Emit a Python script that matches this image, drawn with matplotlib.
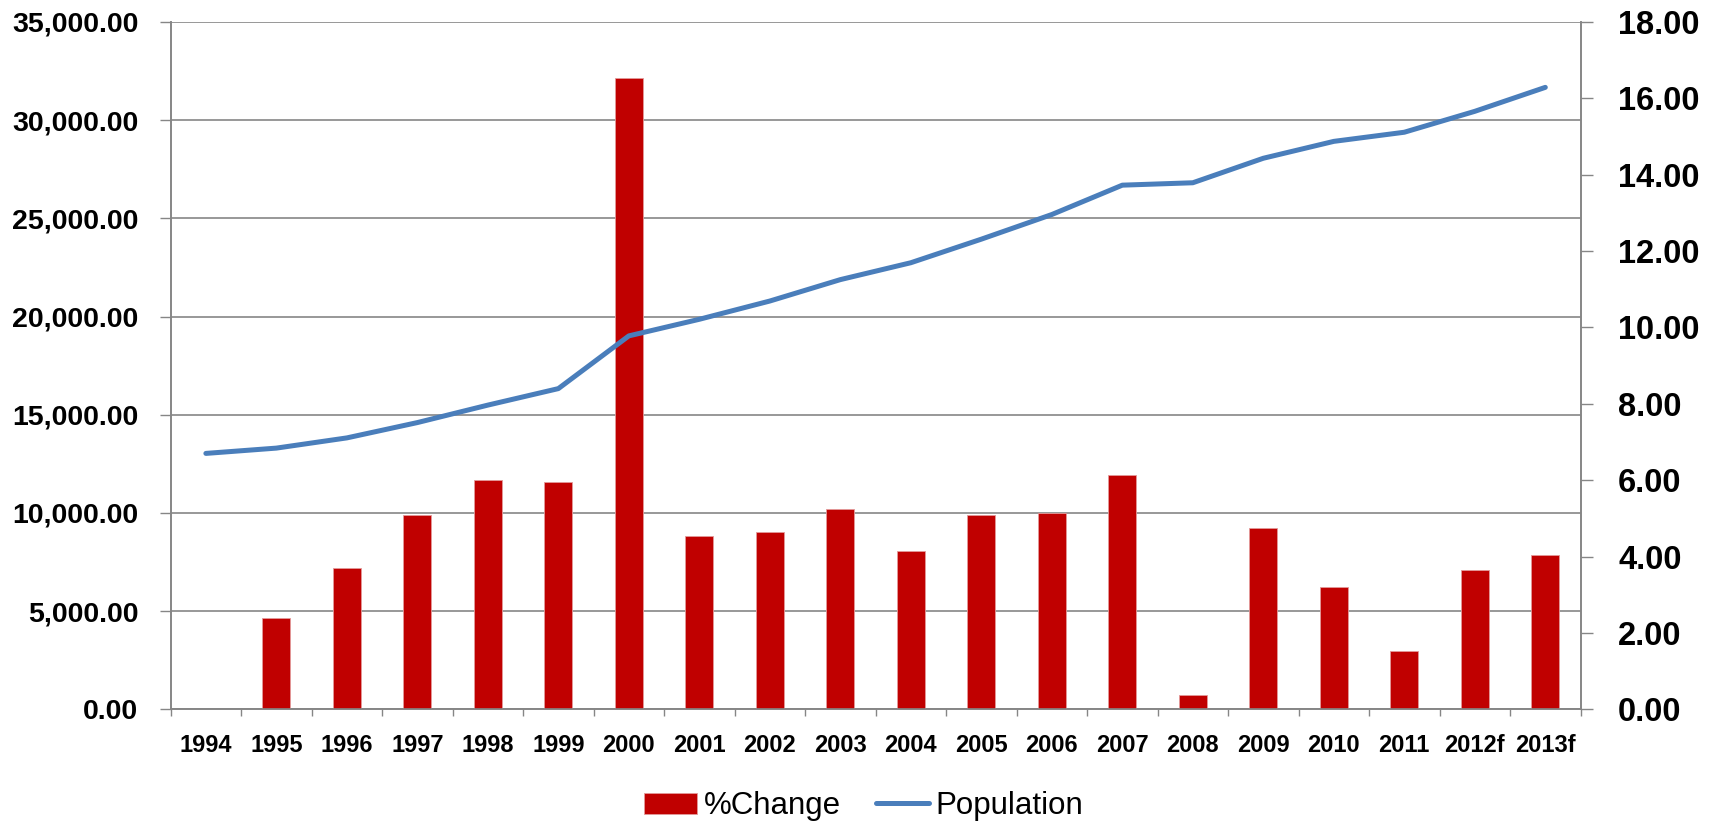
import matplotlib
matplotlib.use('Agg')
import matplotlib.pyplot as plt
from matplotlib.ticker import FuncFormatter, FixedLocator

plt.rcParams['font.family'] = ['Liberation Sans', 'DejaVu Sans']
plt.rcParams['font.weight'] = 'bold'

YEARS = ["1994", "1995", "1996", "1997", "1998", "1999", "2000", "2001", "2002", "2003",
         "2004", "2005", "2006", "2007", "2008", "2009", "2010", "2011", "2012f", "2013f"]
PCT_CHANGE = [0.0, 2.38, 3.71, 5.09, 6.01, 5.96, 16.52, 4.54, 4.63, 5.24,
              4.15, 5.10, 5.13, 6.13, 0.38, 4.76, 3.21, 1.53, 3.66, 4.05]
POPULATION = [13030, 13300, 13820, 14600, 15490, 16330, 19015, 19860, 20790, 21880,
              22740, 23940, 25195, 26690, 26812, 28060, 28920, 29385, 30450, 31670]

BAR_COLOR = '#C00000'
LINE_COLOR = '#4A7EBB'
GRID_COLOR = '#868686'

fig = plt.figure(figsize=(17.27, 8.26), dpi=100)
ax = fig.add_axes([0.0988, 0.1413, 0.8164, 0.8321])
ax2 = ax.twinx()
ax3 = ax.twinx()

x = list(range(len(YEARS)))

# left axis: population scale + gridlines
ax.set_xlim(-0.5, len(YEARS) - 0.5)
ax.set_ylim(0, 35000)
ax.set_yticks(range(0, 35001, 5000))
ax.yaxis.set_major_formatter(FuncFormatter(lambda v, p: f"{v:,.2f}"))
ax.grid(axis='y', color=GRID_COLOR, linewidth=1.2)
ax.set_axisbelow(True)
ax.tick_params(axis='y', labelsize=20.5, length=7.7, width=1, color=GRID_COLOR, pad=15.5)

ax.set_xticks(x)
ax.set_xticklabels(YEARS, fontsize=17)
ax.xaxis.set_minor_locator(FixedLocator([i - 0.5 for i in range(len(YEARS) + 1)]))
ax.tick_params(axis='x', which='major', length=0, pad=18)
ax.tick_params(axis='x', which='minor', length=5.3, width=1, color=GRID_COLOR)

# right axis: %change bars
bars = ax2.bar(x, PCT_CHANGE, width=0.4, color=BAR_COLOR, edgecolor='#e39a9a',
               linewidth=0.6, label='%Change')
ax2.set_ylim(0, 18)
ax2.set_yticks(range(0, 19, 2))
ax2.yaxis.set_major_formatter(FuncFormatter(lambda v, p: f"{v:.2f}"))
ax2.tick_params(axis='y', labelsize=23.5, length=8.6, width=1, color=GRID_COLOR, pad=18.5)

# population line on top of bars
line, = ax3.plot(x, POPULATION, color=LINE_COLOR, linewidth=3.6,
                 solid_capstyle='round', solid_joinstyle='round', label='Population')
ax3.set_ylim(0, 35000)
ax3.axis('off')

for a in (ax, ax2, ax3):
    a.patch.set_visible(False)
    a.spines['top'].set_visible(False)
for a in (ax, ax2):
    for s in ('left', 'right', 'bottom'):
        a.spines[s].set_color(GRID_COLOR)
        a.spines[s].set_linewidth(1.2)

fig.legend([bars, line], ['%Change', 'Population'], loc='center',
           bbox_to_anchor=(0.5, 0.024), ncol=2, frameon=False,
           prop={'size': 22.5, 'weight': 'normal'},
           handlelength=1.7, handleheight=0.66, handletextpad=0.22, columnspacing=1.12)

fig.savefig('out.png', dpi=100, facecolor='white')
